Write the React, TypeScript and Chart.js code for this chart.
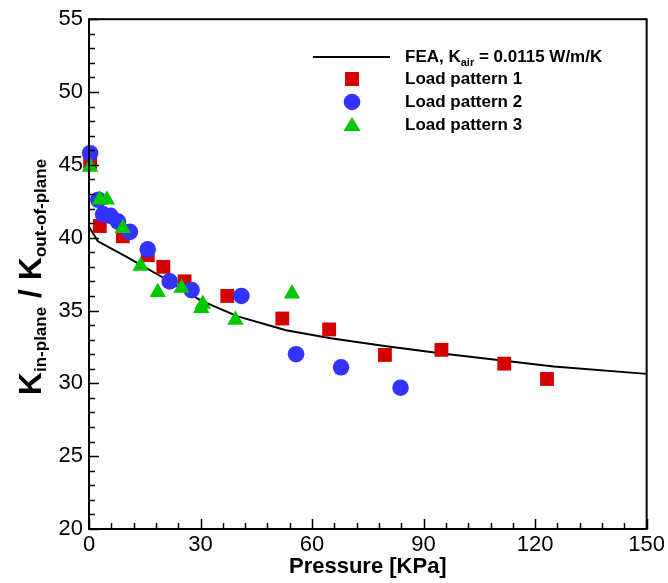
import React, { useEffect, useRef } from "react";
import { Chart, registerables } from "chart.js";

Chart.register(...registerables);

// ---- Data ----
const feaPressure = [0, 2.4, 10, 20, 30, 40, 53, 65, 80, 95, 110, 125, 150];
const feaRatio = [40.75, 39.75, 38.7, 37.25, 35.7, 34.6, 33.65, 33.1, 32.55, 32.05, 31.6, 31.15, 30.65];

const p1Pressure = [0.3, 2.9, 9.1, 15.8, 20, 25.7, 37.2, 52.0, 64.6, 79.6, 94.8, 111.7, 123.2];
const p1Ratio = [45.2, 40.8, 40.1, 38.8, 38.0, 37.0, 36.0, 34.45, 33.7, 31.95, 32.3, 31.35, 30.3];

const p2Pressure = [0.3, 2.5, 3.8, 5.8, 7.8, 11.0, 15.8, 21.7, 27.6, 41.0, 55.7, 67.8, 83.8];
const p2Ratio = [45.8, 42.6, 41.6, 41.5, 41.1, 40.4, 39.2, 37.0, 36.4, 36.0, 32.0, 31.1, 29.7];

const p3Pressure = [0.3, 2.9, 4.8, 9.1, 13.9, 18.5, 24.9, 30.2, 30.6, 39.4, 54.6];
const p3Ratio = [44.85, 42.6, 42.6, 40.65, 38.05, 36.25, 36.55, 35.15, 35.45, 34.35, 36.15];

const xTicks = [0, 30, 60, 90, 120, 150];
const yTicks = [20, 25, 30, 35, 40, 45, 50, 55];

const legendLabels = ["Load pattern 1", "Load pattern 2", "Load pattern 3"];

const RED = "#d40000";
const BLUE = "#3333ff";
const GREEN = "#00c800";

const pts = (xs: number[], ys: number[]) => xs.map((x, i) => ({ x, y: ys[i] }));

const FONT = "'Liberation Sans', Arial, sans-serif";

const decorPlugin = {
  id: "decor",
  afterDraw(chart: any) {
    const { ctx, chartArea } = chart;
    const xs = chart.scales.x;
    const ys = chart.scales.y;
    const { left, right, top, bottom } = chartArea;
    ctx.save();
    // box
    ctx.strokeStyle = "#000";
    ctx.lineWidth = 2;
    ctx.strokeRect(left, top, right - left, bottom - top);
    // ticks
    ctx.lineWidth = 1.5;
    ctx.beginPath();
    for (let v = 0; v <= 150; v += 6) {
      const px = Math.round(xs.getPixelForValue(v)) + 0.5;
      const len = v % 30 === 0 ? 10 : 6;
      ctx.moveTo(px, bottom);
      ctx.lineTo(px, bottom - len);
    }
    for (let v = 20; v <= 55; v += 1) {
      const py = Math.round(ys.getPixelForValue(v)) + 0.5;
      const len = v % 5 === 0 ? 10 : 6;
      ctx.moveTo(left, py);
      ctx.lineTo(left + len, py);
    }
    ctx.stroke();

    // x title
    ctx.fillStyle = "#000";
    ctx.font = `bold 22px ${FONT}`;
    ctx.textAlign = "center";
    ctx.textBaseline = "middle";
    ctx.fillText("Pressure [KPa]", (left + right) / 2, 567);

    // y title (rotated, with subscripts)
    const bigFont = `bold 32px ${FONT}`;
    const subFont = `bold 17px ${FONT}`;
    const parts: [string, string, number][] = [
      ["K", bigFont, 0],
      ["in-plane", subFont, 5],
      [" / ", bigFont, 0],
      ["K", bigFont, 0],
      ["out-of-plane", subFont, 5],
    ];
    ctx.textAlign = "left";
    ctx.textBaseline = "alphabetic";
    let total = 0;
    for (const [t, f] of parts) {
      ctx.font = f;
      total += ctx.measureText(t).width;
    }
    ctx.save();
    ctx.translate(41, 277);
    ctx.rotate(-Math.PI / 2);
    let cx = -total / 2;
    for (const [t, f, dy] of parts) {
      ctx.font = f;
      ctx.fillText(t, cx, dy);
      cx += ctx.measureText(t).width;
    }
    ctx.restore();

    // legend
    const lx = 405;
    const rows = [57, 79, 102, 125];
    ctx.lineWidth = 2;
    ctx.strokeStyle = "#000";
    ctx.beginPath();
    ctx.moveTo(313, rows[0]);
    ctx.lineTo(390, rows[0]);
    ctx.stroke();
    ctx.textBaseline = "middle";
    ctx.font = `bold 17px ${FONT}`;
    let tx = lx;
    ctx.fillText("FEA, K", tx, rows[0]);
    tx += ctx.measureText("FEA, K").width;
    ctx.font = `bold 11px ${FONT}`;
    ctx.fillText("air", tx, rows[0] + 6);
    tx += ctx.measureText("air").width;
    ctx.font = `bold 17px ${FONT}`;
    ctx.fillText(" = 0.0115 W/m/K", tx, rows[0]);

    const mx = 352;
    // square
    ctx.fillStyle = RED;
    ctx.fillRect(mx - 7, rows[1] - 7, 14, 14);
    // circle
    ctx.fillStyle = BLUE;
    ctx.beginPath();
    ctx.arc(mx, rows[2], 8.3, 0, Math.PI * 2);
    ctx.fill();
    // triangle
    ctx.fillStyle = GREEN;
    ctx.beginPath();
    ctx.moveTo(mx, rows[3] - 8);
    ctx.lineTo(mx + 8.5, rows[3] + 6);
    ctx.lineTo(mx - 8.5, rows[3] + 6);
    ctx.closePath();
    ctx.fill();

    ctx.fillStyle = "#000";
    ctx.font = `bold 17px ${FONT}`;
    legendLabels.forEach((l, i) => ctx.fillText(l, lx, rows[i + 1]));
    ctx.restore();
  },
};

export default function App() {
  const ref = useRef<HTMLCanvasElement>(null);
  useEffect(() => {
    if (!ref.current) return;
    const chart = new Chart(ref.current, {
      type: "scatter",
      data: {
        datasets: [
          {
            type: "line",
            label: "FEA",
            data: pts(feaPressure, feaRatio),
            borderColor: "#000",
            borderWidth: 2,
            pointRadius: 0,
            fill: false,
            tension: 0,
            order: 3,
            clip: false,
          } as any,
          {
            label: legendLabels[0],
            data: pts(p1Pressure, p1Ratio),
            pointStyle: "rect",
            pointRadius: 9.8,
            backgroundColor: RED,
            borderWidth: 0,
            order: 2,
            clip: false,
          },
          {
            label: legendLabels[1],
            data: pts(p2Pressure, p2Ratio),
            pointStyle: "circle",
            pointRadius: 8.3,
            backgroundColor: BLUE,
            borderWidth: 0,
            order: 1,
            clip: false,
          },
          {
            label: legendLabels[2],
            data: pts(p3Pressure, p3Ratio),
            pointStyle: "triangle",
            pointRadius: 9.5,
            backgroundColor: GREEN,
            borderWidth: 0,
            order: 0,
            clip: false,
          },
        ],
      },
      options: {
        animation: false,
        responsive: false,
        devicePixelRatio: 1,
        layout: { padding: { top: 13, right: 19, left: 0, bottom: 0 } },
        plugins: { legend: { display: false }, tooltip: { enabled: false } },
        scales: {
          x: {
            type: "linear",
            min: 0,
            max: 150,
            grid: { display: false, drawTicks: false },
            border: { display: false },
            afterFit: (s: any) => {
              s.height = 54;
            },
            afterBuildTicks: (s: any) => {
              s.ticks = xTicks.map((v) => ({ value: v }));
            },
            ticks: {
              padding: 3,
              color: "#000",
              font: { family: FONT, size: 22 },
              maxRotation: 0,
            },
          },
          y: {
            type: "linear",
            min: 20,
            max: 55,
            grid: { display: false, drawTicks: false },
            border: { display: false },
            afterFit: (s: any) => {
              s.width = 89;
            },
            afterBuildTicks: (s: any) => {
              s.ticks = yTicks.map((v) => ({ value: v }));
            },
            ticks: {
              padding: 6,
              color: "#000",
              font: { family: FONT, size: 22 },
            },
          },
        },
      },
      plugins: [decorPlugin],
    });
    return () => chart.destroy();
  }, []);
  return (
    <div style={{ position: "absolute", left: 0, top: 0, width: 668, height: 583, background: "#fff" }}>
      <canvas ref={ref} width={668} height={583} />
    </div>
  );
}
